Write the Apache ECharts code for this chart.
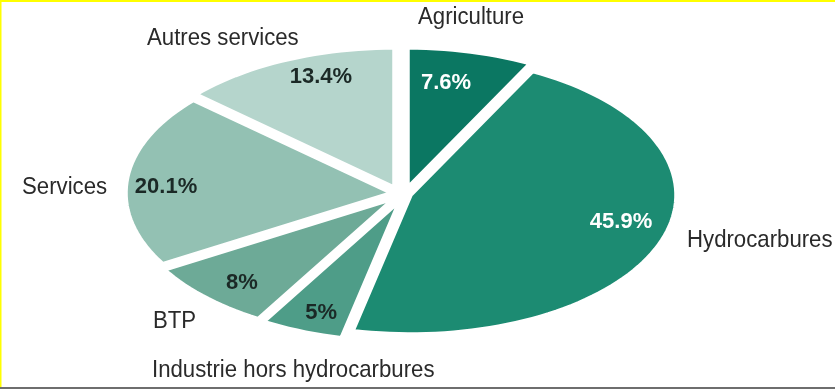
<!DOCTYPE html>
<html>
<head>
<meta charset="utf-8">
<script src="https://cdn.jsdelivr.net/npm/echarts@6/dist/echarts.min.js"></script>
<style>
  html, body { margin: 0; padding: 0; background: #ffffff; }
  #chart { width: 835px; height: 390px; }
</style>
</head>
<body>
<div id="chart"></div>
<script>
// Sector shares, clockwise from 12 o'clock
const categories = ['Agriculture', 'Hydrocarbures', 'Industrie hors hydrocarbures', 'BTP', 'Services', 'Autres services'];
const shares = [7.6, 45.9, 5, 8, 20.1, 13.4];

// Appearance of each slice
const sliceColors = ['#0b7762', '#1c8b72', '#4e9d88', '#6daa97', '#93c1b3', '#b5d5cc'];
const valueColors = ['#ffffff', '#ffffff', '#1b2926', '#1b2926', '#1b2926', '#1b2926'];
const sliceShift = [[7, -6], [10, 2], [-2, 9], [-8, 6], [-10, 0], [-7, -6]];      // px
const valuePlace = [[0.762, 10.85], [0.816, 103.8], [0.851, 200.2], [0.831, 223.3], [0.85, 272.9], [0.838, 340.8]]; // radius fraction, degrees
const namePlace = [[418, 17], [687, 240], [152, 370], [153, 321], [22, 187], [147, 38]]; // px

const total = shares.reduce((a, b) => a + b, 0);
const startAngles = [];
shares.reduce((acc, v) => { startAngles.push(acc); return acc + v / total * 360; }, 0);

const rad = d => d * Math.PI / 180;

function renderSlice(params, api) {
  const i = params.dataIndex;
  const share = api.value(2);
  const a0 = startAngles[i];
  const a1 = a0 + share / total * 360;
  const [dx, dy] = sliceShift[i];
  const pt = (r, deg) => {
    const p = api.coord([r * Math.sin(rad(deg)), r * Math.cos(rad(deg))]);
    return [p[0] + dx, p[1] + dy];
  };
  const pts = [pt(0, 0)];
  const steps = Math.max(8, Math.ceil((a1 - a0) / 2));
  for (let k = 0; k <= steps; k++) pts.push(pt(1, a0 + (a1 - a0) * k / steps));
  const lp = pt(valuePlace[i][0], valuePlace[i][1]);
  return {
    type: 'group',
    children: [
      {
        type: 'polygon',
        shape: { points: pts },
        style: { fill: sliceColors[i], stroke: '#ffffff', lineWidth: 3.5, lineJoin: 'round' }
      },
      {
        type: 'text',
        x: lp[0], y: lp[1],
        style: {
          text: share + '%',
          fill: valueColors[i],
          font: 'bold 22px "Liberation Sans", Arial, sans-serif',
          align: 'center',
          verticalAlign: 'middle'
        }
      }
    ]
  };
}

// Category names in a slightly condensed face
const nameTexts = categories.map((name, i) => ({
  type: 'text',
  x: namePlace[i][0],
  y: namePlace[i][1],
  scaleX: 0.91,
  style: {
    text: name,
    fill: '#2a2a2a',
    font: '24.4px "Liberation Sans", Arial, sans-serif',
    align: 'left',
    verticalAlign: 'middle'
  }
}));

const chart = echarts.init(document.getElementById('chart'), null, { renderer: 'canvas' });
chart.setOption({
  animation: false,
  backgroundColor: '#ffffff',
  grid: { left: 136, top: 54, width: 530, height: 278 },
  xAxis: { type: 'value', min: -1, max: 1, show: false },
  yAxis: { type: 'value', min: -1, max: 1, show: false },
  graphic: [
    { type: 'rect', shape: { x: 0, y: 0, width: 835, height: 2 }, style: { fill: '#ffff00' } },
    { type: 'rect', shape: { x: 0, y: 0, width: 1.5, height: 388 }, style: { fill: '#ffff00' } },
    { type: 'rect', shape: { x: 0, y: 387, width: 835, height: 2 }, style: { fill: '#6e6e6e' } }
  ].concat(nameTexts),
  series: [{
    type: 'custom',
    coordinateSystem: 'cartesian2d',
    clip: false,
    renderItem: renderSlice,
    data: shares.map(v => ({ value: [0, 0, v] }))
  }]
});
</script>
</body>
</html>
